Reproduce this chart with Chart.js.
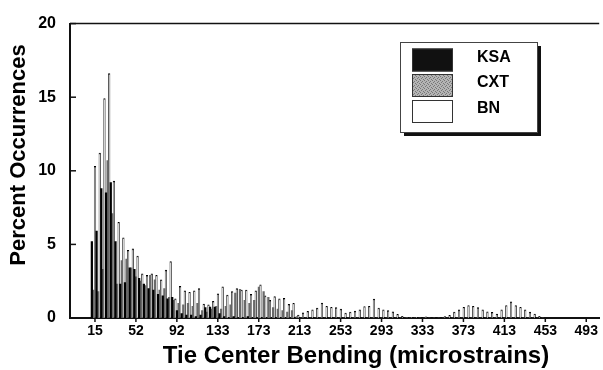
<!DOCTYPE html>
<html lang="en">
<head>
  <meta charset="UTF-8" />
  <title>Tie Center Bending</title>
  <script src="https://cdn.jsdelivr.net/npm/chart.js@4.4.0/dist/chart.umd.min.js"></script>
  <style>
    body { margin: 0; background: #fff; }
    .wrap { width: 603px; height: 370px; }
  </style>
</head>
<body>
  <div class="wrap"><canvas id="tieChart" width="603" height="370"></canvas></div>

  <script>
    // histogram bins (microstrains), one value per bin and per tie type
    const binStart = 13.5;
    const binStep = 4.6;

    const ksa = [5.2, 5.9, 8.8, 8.5, 9.2, 5.2, 2.3, 2.4, 3.4, 3.3,
                 2.7, 2.3, 2.0, 1.9, 1.6, 1.5, 1.3, 1.4, 0.5, 0.3,
                 0.2, 0.2, 0.1, 0.2, 0.7, 0.75, 0.75, 0.3, 0.1, 0,
                 0.1, 0, 0, 0.1, 0, 0, 0, 0, 0, 0,
                 0, 0, 0, 0, 0, 0, 0, 0, 0, 0,
                 0, 0, 0, 0, 0, 0, 0, 0, 0, 0,
                 0, 0, 0, 0, 0, 0, 0, 0, 0, 0,
                 0, 0, 0, 0, 0, 0, 0, 0, 0, 0,
                 0, 0, 0, 0, 0, 0, 0, 0, 0, 0,
                 0, 0, 0, 0, 0, 0];

    const cxt = [1.9, 1.8, 3.3, 10.7, 7.1, 2.3, 3.9, 4.0, 3.4, 2.8,
                 2.5, 2.2, 2.9, 2.6, 1.9, 2.0, 1.4, 1.2, 1.0, 0.9,
                 1.0, 0.8, 1.0, 0.5, 0.4, 0.6, 0.8, 0.6, 0.8, 0.9,
                 1.7, 1.95, 1.2, 1.0, 1.2, 2.1, 1.8, 1.4, 0.7, 0.6,
                 0.5, 0.4, 0.5, 0.1, 0, 0, 0, 0, 0, 0,
                 0, 0, 0, 0, 0, 0, 0, 0, 0, 0,
                 0, 0, 0, 0, 0, 0, 0, 0, 0, 0,
                 0, 0, 0, 0, 0, 0, 0, 0, 0, 0,
                 0, 0, 0, 0, 0, 0, 0, 0, 0, 0,
                 0, 0, 0, 0, 0, 0];

    const bn = [10.3, 11.2, 14.9, 16.6, 9.3, 6.5, 5.45, 4.6, 4.7, 4.2,
                3.0, 2.9, 3.0, 2.9, 2.6, 3.25, 3.83, 1.3, 2.15, 1.85,
                1.75, 1.85, 2.0, 0.95, 0.9, 1.13, 1.65, 2.12, 1.55, 1.8,
                2.0, 1.9, 1.9, 1.6, 1.85, 2.25, 1.5, 1.2, 1.45, 1.3,
                1.33, 0.93, 1.0, 0.2, 0.35, 0.45, 0.55, 0.67, 1.02, 0.8,
                0.73, 0.7, 0.6, 0.33, 0.4, 0.47, 0.55, 0.78, 0.8, 1.29,
                0.67, 0.55, 0.5, 0.42, 0.25, 0.12, 0.05, 0.05, 0.05, 0,
                0.08, 0, 0, 0, 0.1, 0.18, 0.4, 0.55, 0.73, 0.85,
                0.8, 0.7, 0.55, 0.42, 0.38, 0.27, 0.55, 0.85, 1.1, 0.85,
                0.73, 0.55, 0.4, 0.27, 0.12, 0];

    const tickLabels = ['15', '52', '92', '133', '173', '213', '253', '293', '333', '373', '413', '453', '493'];
    const yTicks = [0, 5, 10, 15, 20];
    const xTitle = 'Tie Center Bending (microstrains)';
    const yTitle = 'Percent Occurrences';

    const bins = bn.map((_, i) => binStart + i * binStep);
    const toPoints = vals => vals.map((v, i) => ({ x: bins[i], y: v }));

    // stippled grey for the CXT legend swatch
    function stipple() {
      const c = document.createElement('canvas');
      c.width = 4; c.height = 4;
      const g = c.getContext('2d');
      g.fillStyle = '#b4b4b4'; g.fillRect(0, 0, 4, 4);
      g.fillStyle = '#777';
      g.fillRect(0, 0, 1, 1); g.fillRect(2, 1, 1, 1); g.fillRect(1, 2, 1, 1); g.fillRect(3, 3, 1, 1);
      return g.createPattern(c, 'repeat');
    }

    const decor = {
      id: 'decor',
      afterDraw(chart) {
        const { ctx, chartArea: a, scales: { x, y } } = chart;
        ctx.save();
        ctx.strokeStyle = '#111';
        ctx.lineWidth = 1.5;
        yTicks.forEach(v => {
          const py = y.getPixelForValue(v);
          ctx.beginPath(); ctx.moveTo(a.left, py); ctx.lineTo(a.left + 6, py); ctx.stroke();
        });
        x.ticks.forEach(t => {
          const px = x.getPixelForValue(t.value);
          ctx.beginPath(); ctx.moveTo(px, a.bottom); ctx.lineTo(px, a.bottom + 4); ctx.stroke();
        });
        ctx.beginPath(); ctx.moveTo(a.left, a.top); ctx.lineTo(a.right, a.top); ctx.stroke();

        // axis titles
        ctx.fillStyle = '#000';
        ctx.font = 'bold 24px "Liberation Sans", Arial, sans-serif';
        ctx.textAlign = 'center';
        ctx.textBaseline = 'middle';
        ctx.fillText(xTitle, 356, 356);
        ctx.save();
        ctx.font = 'bold 22px "Liberation Sans", Arial, sans-serif';
        ctx.translate(19, 155);
        ctx.rotate(-Math.PI / 2);
        ctx.fillText(yTitle, 0, 0);
        ctx.restore();

        // legend box with drop shadow
        const bx = 400, by = 42, bw = 137, bh = 90;
        ctx.fillStyle = '#111';
        ctx.fillRect(bx + 4, by + 4, bw, bh);
        ctx.fillStyle = '#fff';
        ctx.fillRect(bx, by, bw, bh);
        ctx.lineWidth = 1;
        ctx.strokeStyle = '#444';
        ctx.strokeRect(bx + 0.5, by + 0.5, bw, bh);

        const fills = ['#111', stipple(), '#fff'];
        const rows = [48.5, 74, 100];
        ctx.font = 'bold 16px "Liberation Sans", Arial, sans-serif';
        ctx.textAlign = 'left';
        chart.data.datasets.forEach((ds, i) => {
          ctx.fillStyle = fills[i];
          ctx.fillRect(412, rows[i], 41, 23);
          ctx.strokeStyle = '#333';
          ctx.strokeRect(412.5, rows[i] + 0.5, 40, 22);
          ctx.fillStyle = '#000';
          ctx.fillText(ds.label, 477, rows[i] + 9);
        });
        ctx.restore();
      }
    };

    Chart.defaults.font.family = '"Liberation Sans", Arial, sans-serif';
    Chart.defaults.color = '#000';

    new Chart(document.getElementById('tieChart'), {
      type: 'bar',
      data: {
        datasets: [
          { label: 'KSA', data: toPoints(ksa), backgroundColor: '#000' },
          { label: 'CXT', data: toPoints(cxt), backgroundColor: '#6a6a6a' },
          { label: 'BN', data: toPoints(bn), backgroundColor: '#e8e8e8', borderColor: '#000', borderWidth: 1 }
        ]
      },
      options: {
        responsive: false,
        animation: false,
        categoryPercentage: 1,
        barPercentage: 1,
        layout: { padding: { top: 21, right: 3, left: 0, bottom: 0 } },
        plugins: { legend: { display: false }, tooltip: { enabled: false } },
        scales: {
          x: {
            type: 'linear',
            offset: false,
            min: -9.3,
            max: 505.6,
            afterBuildTicks: axis => {
              axis.ticks = tickLabels.map((_, k) => ({ value: 15 + k * (493 - 15) / (tickLabels.length - 1) }));
            },
            afterFit: s => { s.height = 52; },
            grid: { display: false, drawTicks: false, tickLength: 0 },
            border: { display: true, color: '#111', width: 2 },
            ticks: {
              autoSkip: false,
              maxRotation: 0,
              padding: 5,
              font: { size: 14, weight: 'bold' },
              callback: (v, i) => tickLabels[i]
            }
          },
          y: {
            min: 0,
            max: 20,
            afterBuildTicks: axis => { axis.ticks = yTicks.map(v => ({ value: v })); },
            afterFit: s => { s.width = 70; },
            grid: { display: false, drawTicks: false, tickLength: 0 },
            border: { display: true, color: '#111', width: 2 },
            ticks: { padding: 14, font: { size: 16, weight: 'bold' } }
          }
        }
      },
      plugins: [decor]
    });
  </script>
</body>
</html>
